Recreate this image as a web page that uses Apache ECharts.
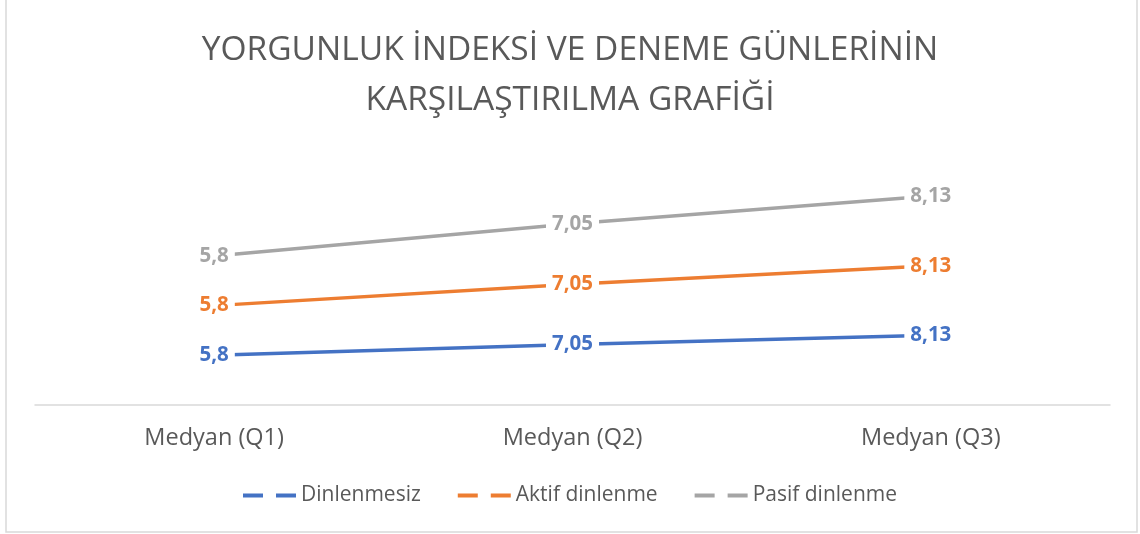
<!DOCTYPE html>
<html><head><meta charset="utf-8">
<script src="https://cdn.jsdelivr.net/npm/echarts@6/dist/echarts.min.js"></script>
<style>html,body{margin:0;padding:0;background:#fff}#c{width:1140px;height:534px}</style>
</head><body><div id="c"></div>
<script>
const categories = ['Medyan (Q1)', 'Medyan (Q2)', 'Medyan (Q3)'];
const seriesNames = ['Dinlenmesiz', 'Aktif dinlenme', 'Pasif dinlenme'];
const dinlenmesiz = [5.8, 7.05, 8.13];
const aktif = [5.8, 7.05, 8.13];
const pasif = [5.8, 7.05, 8.13];
const colors = ['#4472C4', '#ED7D31', '#A5A5A5'];
const font = 'Open Sans, Liberation Sans, sans-serif';

function mk(name, vals, color) {
  return {
    name: name, type: 'line', stack: 'total', symbol: 'circle', symbolSize: 0.1, showSymbol: true,
    lineStyle: { color: color, width: 3.5 }, itemStyle: { color: color },
    label: {
      show: true, position: 'inside', color: color, fontFamily: font,
      fontWeight: 'bold', fontSize: 20.5,
      backgroundColor: '#fff',
      padding: [1, 6, 1, 6],
      formatter: p => String(p.value).replace('.', ',')
    },
    data: vals
  };
}
const legendIcon = 'path://M0,0H20V4H0Z M33,0H53V4H33Z';
const chart = echarts.init(document.getElementById('c'));
chart.setOption({
  animation: false,
  title: {
    text: 'YORGUNLUK İNDEKSİ VE DENEME GÜNLERİNİN\nKARŞILAŞTIRILMA GRAFİĞİ',
    left: 'center', top: 20,
    textStyle: { fontFamily: font, fontWeight: 'normal', fontSize: 33.5, color: '#595959', lineHeight: 50 }
  },
  legend: {
    bottom: 23, left: 'center', itemWidth: 53, itemHeight: 4, itemGap: 37,
    icon: legendIcon,
    textStyle: { fontFamily: font, fontSize: 21, color: '#595959' },
    data: seriesNames
  },
  grid: { left: 35, right: 30, top: 148, bottom: 129 },
  xAxis: {
    type: 'category', data: categories, boundaryGap: true,
    axisLine: { lineStyle: { color: '#D9D9D9', width: 1.5 } },
    axisTick: { show: false },
    axisLabel: { fontFamily: font, fontSize: 23.5, color: '#595959', margin: 21 }
  },
  yAxis: { type: 'value', min: 0, max: 30, show: false, splitLine: { show: false } },
  series: [
    mk(seriesNames[0], dinlenmesiz, colors[0]),
    mk(seriesNames[1], aktif, colors[1]),
    mk(seriesNames[2], pasif, colors[2])
  ],
  graphic: [{ type: 'rect', shape: { x: 6, y: -2, width: 1131, height: 534 }, style: { fill: 'none', stroke: '#D9D9D9', lineWidth: 1.5 }, silent: true }]
});
</script></body></html>
